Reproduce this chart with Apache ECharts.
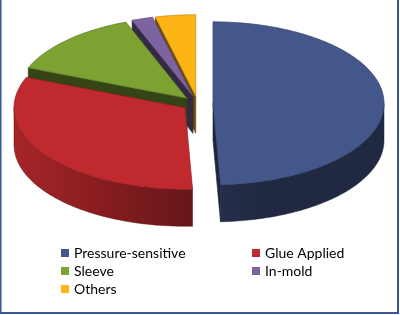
<!DOCTYPE html>
<html>
<head>
<meta charset="utf-8">
<script src="https://cdn.jsdelivr.net/npm/echarts@6/dist/echarts.min.js"></script>
<style>
html,body{margin:0;padding:0;background:#fff;}
#chart{width:400px;height:315px;}
</style>
</head>
<body>
<div id="chart"></div>
<script>
// ---- data ----
const categories = ['Pressure-sensitive', 'Glue Applied', 'Sleeve', 'In-mold', 'Others'];
const values = [49.3, 31.8, 13.1, 2.0, 3.8];

// ---- style ----
const palette = ['#44578B', '#C0292E', '#7CA232', '#7E63A1', '#FDB515'];

// ---- 3D pie layout ----
const CX = 197.6, CY = 103.5, RX = 171, RY = 81.5, EXPLODE = 15.4, THICK = 37;
const K = RY / RX;

function shade(hex, f) {
  const n = parseInt(hex.slice(1), 16);
  const r = Math.min(255, Math.round(((n >> 16) & 255) * f));
  const g = Math.min(255, Math.round(((n >> 8) & 255) * f));
  const b = Math.min(255, Math.round((n & 255) * f));
  return 'rgb(' + r + ',' + g + ',' + b + ')';
}
const rad = a => a * Math.PI / 180;
const total = values.reduce((s, v) => s + v, 0);
const starts = [];
{ let acc = 0; values.forEach(v => { starts.push(acc / total * 360); acc += v; }); }
const wallFactor = a => Math.max(0.47, 0.55 + 0.32 * (-Math.sin(rad(a))));

function makeRender(i) {
  return function (params, api) {
    const v = api.value(0);
    const s = starts[i], e = s + v / total * 360;
    const mid = (s + e) / 2;
    const ox = EXPLODE * Math.sin(rad(mid));
    const oy = -EXPLODE * K * Math.cos(rad(mid));
    const P = (th, r, dz) => [CX + ox + RX * r * Math.sin(rad(th)), CY + oy - RY * r * Math.cos(rad(th)) + (dz || 0)];
    const base = palette[i];
    const children = [];
    const cutFace = th => {
      const pts = [P(th, 0), P(th, 1), P(th, 1, THICK), P(th, 0, THICK)];
      const c = shade(base, 0.42);
      children.push({ type: 'polygon', shape: { points: pts }, style: { fill: c, stroke: c, lineWidth: 0.6 } });
    };
    if (Math.sin(rad(s)) < -0.001) cutFace(s);
    if (Math.sin(rad(e)) > 0.001) cutFace(e);
    // outer wall (front half only), one polygon with horizontal gradient
    const w1 = Math.max(s, 90), w2 = Math.min(e, 270);
    if (w2 > w1) {
      const upper = [], lower = [];
      for (let a = w1; a < w2; a += 1) { upper.push(P(a, 1)); lower.push(P(a, 1, THICK)); }
      upper.push(P(w2, 1)); lower.push(P(w2, 1, THICK));
      const pts = upper.concat(lower.reverse());
      const xa = P(w1, 1)[0], xb = P(w2, 1)[0];
      const xmin = Math.min(xa, xb), xmax = Math.max(xa, xb);
      const stops = [];
      const n = 12;
      for (let j = 0; j <= n; j++) {
        const a = w1 + (w2 - w1) * j / n;
        const x = P(a, 1)[0];
        stops.push({ offset: xmax > xmin ? (x - xmin) / (xmax - xmin) : 0, color: shade(base, wallFactor(a)) });
      }
      stops.sort((p, q) => p.offset - q.offset);
      const grad = new echarts.graphic.LinearGradient(xmin, 0, xmax, 0, stops, true);
      children.push({ type: 'polygon', shape: { points: pts }, style: { fill: grad, stroke: shade(base, 0.45), lineWidth: 0.5 } });
    }
    // top face
    const top = [P(s, 0)];
    for (let a = s; a < e; a += 1) top.push(P(a, 1));
    top.push(P(e, 1));
    children.push({ type: 'polygon', shape: { points: top }, style: { fill: base, stroke: shade(base, 0.75), lineWidth: 0.7 } });
    return { type: 'group', children: children };
  };
}

// painter's order: back slices first
const depth = values.map((v, i) => {
  const mid = starts[i] + v / total * 180;
  return -Math.cos(rad(mid));
});
const order = values.map((v, i) => i).sort((a, b) => depth[a] - depth[b]);
const rank = [];
order.forEach((idx, r) => { rank[idx] = r; });

const series = categories.map((name, i) => ({
  type: 'custom',
  name: name,
  coordinateSystem: 'none',
  z: 2 + rank[i],
  silent: true,
  animation: false,
  itemStyle: { color: palette[i] },
  data: [[values[i]]],
  renderItem: makeRender(i)
}));

const chart = echarts.init(document.getElementById('chart'), null, { renderer: 'canvas' });
chart.setOption({
  backgroundColor: '#ffffff',
  animation: false,
  legend: {
    data: categories.map(n => ({ name: n, icon: 'rect' })),
    left: 56,
    top: 239,
    width: 385,
    orient: 'horizontal',
    itemWidth: 8,
    itemHeight: 8,
    itemGap: 0,
    selectedMode: false,
    textStyle: { fontFamily: 'Lato', fontSize: 14, color: '#000', width: 178, lineHeight: 18, padding: [0, 0, 0, 0] }
  },
  graphic: [{
    type: 'rect',
    shape: { x: 0.5, y: -3, width: 397.5, height: 316 },
    style: { fill: 'none', stroke: '#3A5598', lineWidth: 2 },
    z: 100
  }],
  series: series
});
</script>
</body>
</html>
